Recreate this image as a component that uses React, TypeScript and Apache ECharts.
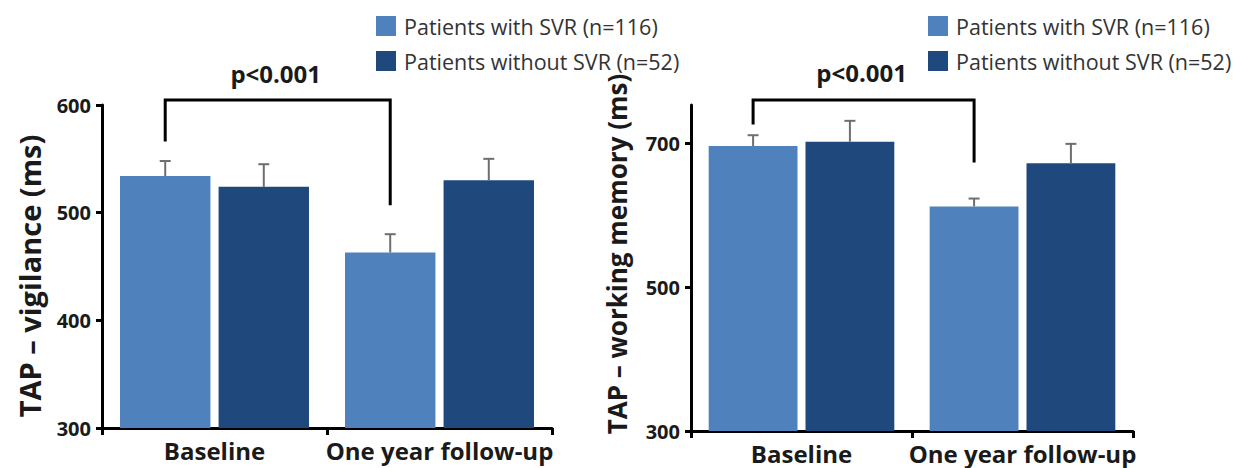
import React, { useEffect, useRef } from "react";
import * as echarts from "echarts";

// Time points on the x axis
const categories = ["Baseline", "One year follow-up"];
const seriesNames = ["Patients with SVR (n=116)", "Patients without SVR (n=52)"];

// TAP – vigilance (ms): means and upper end of the error bars
const vigilanceSVR = [534, 463];
const vigilanceSVRUpper = [548, 480];
const vigilanceNoSVR = [524, 530];
const vigilanceNoSVRUpper = [545, 550];
const vigilanceTicks = [300, 400, 500, 600];

// TAP – working memory (ms): means and upper end of the error bars
const memorySVR = [696, 612];
const memorySVRUpper = [711, 623];
const memoryNoSVR = [702, 672];
const memoryNoSVRUpper = [731, 699];
const memoryTicks = [300, 500, 700];

// Significance brackets: [top, left leg end, right leg end] in axis units
const vigilanceBracket = [604.6, 566, 507];
const memoryBracket = [760, 726, 673];
const pLabel = "p<0.001";

const vigilanceTitle = "TAP – vigilance (ms)";
const memoryTitle = "TAP – working memory (ms)";

const FONT = '"Open Sans", Lato, "DejaVu Sans", sans-serif';
const LIGHT = "#4F81BD";
const DARK = "#1F497D";
const INK = "#1a1a1a";

const CAT_GAP = 0.16;
const BAR_GAP = 0.09;

function barOffset(band: number) {
  const bw = (band * (1 - CAT_GAP)) / (2 + BAR_GAP);
  return (bw * (1 + BAR_GAP)) / 2;
}

function errorSeries(mean: number[], upper: number[], side: number, gridIndex: number) {
  return {
    type: "custom",
    xAxisIndex: gridIndex,
    yAxisIndex: gridIndex,
    z: 5,
    clip: false,
    encode: { x: 0, y: [1, 2] },
    data: mean.map((m, i) => [i, m, upper[i]]),
    renderItem: (params: any, api: any) => {
      const i = api.value(0);
      const base = api.coord([i, api.value(1)]);
      const top = api.coord([i, api.value(2)]);
      const off = barOffset(api.size([1, 0])[0]) * side;
      const x = base[0] + off;
      const style = { stroke: "#6e6e6e", lineWidth: 2 };
      return {
        type: "group",
        children: [
          { type: "line", shape: { x1: x, y1: base[1], x2: x, y2: top[1] }, style },
          { type: "line", shape: { x1: x - 5.5, y1: top[1], x2: x + 5.5, y2: top[1] }, style },
        ],
      };
    },
  };
}

function bracketSeries(b: number[], gridIndex: number) {
  return {
    type: "custom",
    xAxisIndex: gridIndex,
    yAxisIndex: gridIndex,
    z: 6,
    clip: false,
    silent: true,
    encode: { x: 0, y: [1, 2, 3] },
    data: [[0, b[0], b[1], b[2]]],
    renderItem: (params: any, api: any) => {
      const off = barOffset(api.size([1, 0])[0]);
      const topL = api.coord([0, api.value(1)]);
      const topR = api.coord([1, api.value(1)]);
      const x0 = topL[0] - off;
      const x1 = topR[0] - off;
      const yTop = topL[1];
      const yL = api.coord([0, api.value(2)])[1];
      const yR = api.coord([1, api.value(3)])[1];
      return {
        type: "group",
        children: [
          {
            type: "polyline",
            shape: { points: [[x0, yL], [x0, yTop], [x1, yTop], [x1, yR]] },
            style: { stroke: "#000", lineWidth: 3, fill: "none", lineJoin: "miter" },
          },
          {
            type: "text",
            x: (x0 + x1) / 2 - 2,
            y: yTop - 15,
            style: {
              text: pLabel,
              fill: INK,
              font: `bold 24px ${FONT}`,
              align: "center",
              verticalAlign: "bottom",
            },
          },
        ],
      };
    },
  };
}

function makeXAxis(gridIndex: number) {
  return {
    type: "category",
    gridIndex,
    data: categories,
    axisLine: { lineStyle: { color: "#000", width: 3 } },
    axisTick: { show: true, length: 7, lineStyle: { color: "#000", width: 3 } },
    axisLabel: {
      interval: 0,
      color: INK,
      fontFamily: FONT,
      fontWeight: "bold",
      fontSize: 24,
      margin: 10,
    },
  };
}

function makeYAxis(gridIndex: number, min: number, max: number, ticks: number[]) {
  return {
    type: "value",
    gridIndex,
    min,
    max,
    splitLine: { show: false },
    axisLine: { show: true, lineStyle: { color: "#000", width: 3 } },
    axisTick: { show: true, length: 6, customValues: ticks, lineStyle: { color: "#000", width: 3 } },
    axisLabel: {
      customValues: ticks,
      color: INK,
      fontFamily: FONT,
      fontWeight: "bold",
      fontSize: 20,
      margin: 11,
    },
  };
}

function barSeries(name: string, data: number[], color: string, gridIndex: number) {
  return {
    type: "bar",
    name,
    xAxisIndex: gridIndex,
    yAxisIndex: gridIndex,
    data,
    barCategoryGap: `${CAT_GAP * 100}%`,
    barGap: `${BAR_GAP * 100}%`,
    itemStyle: { color },
  };
}

function makeLegend(left: number) {
  return {
    left,
    top: 10,
    orient: "vertical",
    icon: "rect",
    itemWidth: 20,
    itemHeight: 20,
    itemGap: 13,
    selectedMode: false,
    data: seriesNames,
    textStyle: { color: "#333", fontFamily: FONT, fontSize: 21.5, padding: [0, 0, 0, 3] },
  };
}

function axisTitle(text: string, x: number, y: number, size: number) {
  return {
    type: "text",
    x,
    y,
    rotation: Math.PI / 2,
    style: {
      text,
      fill: INK,
      font: `bold ${size}px ${FONT}`,
      align: "center",
      verticalAlign: "middle",
    },
  };
}

export default function App() {
  const ref = useRef<HTMLDivElement>(null);

  useEffect(() => {
    document.body.style.margin = "0";
    if (!ref.current) return;
    const chart = echarts.init(ref.current, undefined, { renderer: "svg" });
    chart.setOption({
      animation: false,
      backgroundColor: "#fff",
      legend: [makeLegend(371), makeLegend(923)],
      grid: [
        { left: 102, top: 105, width: 450, height: 323 },
        { left: 691, top: 105, width: 442, height: 326 },
      ],
      xAxis: [makeXAxis(0), makeXAxis(1)],
      yAxis: [makeYAxis(0, 300, 600, vigilanceTicks), makeYAxis(1, 300, 753, memoryTicks)],
      graphic: [axisTitle(vigilanceTitle, 29, 276, 29), axisTitle(memoryTitle, 617, 254, 26)],
      series: [
        barSeries(seriesNames[0], vigilanceSVR, LIGHT, 0),
        barSeries(seriesNames[1], vigilanceNoSVR, DARK, 0),
        barSeries(seriesNames[0], memorySVR, LIGHT, 1),
        barSeries(seriesNames[1], memoryNoSVR, DARK, 1),
        errorSeries(vigilanceSVR, vigilanceSVRUpper, -1, 0),
        errorSeries(vigilanceNoSVR, vigilanceNoSVRUpper, 1, 0),
        errorSeries(memorySVR, memorySVRUpper, -1, 1),
        errorSeries(memoryNoSVR, memoryNoSVRUpper, 1, 1),
        bracketSeries(vigilanceBracket, 0),
        bracketSeries(memoryBracket, 1),
      ],
    });
    return () => chart.dispose();
  }, []);

  return <div ref={ref} style={{ width: 1237, height: 468 }} />;
}
